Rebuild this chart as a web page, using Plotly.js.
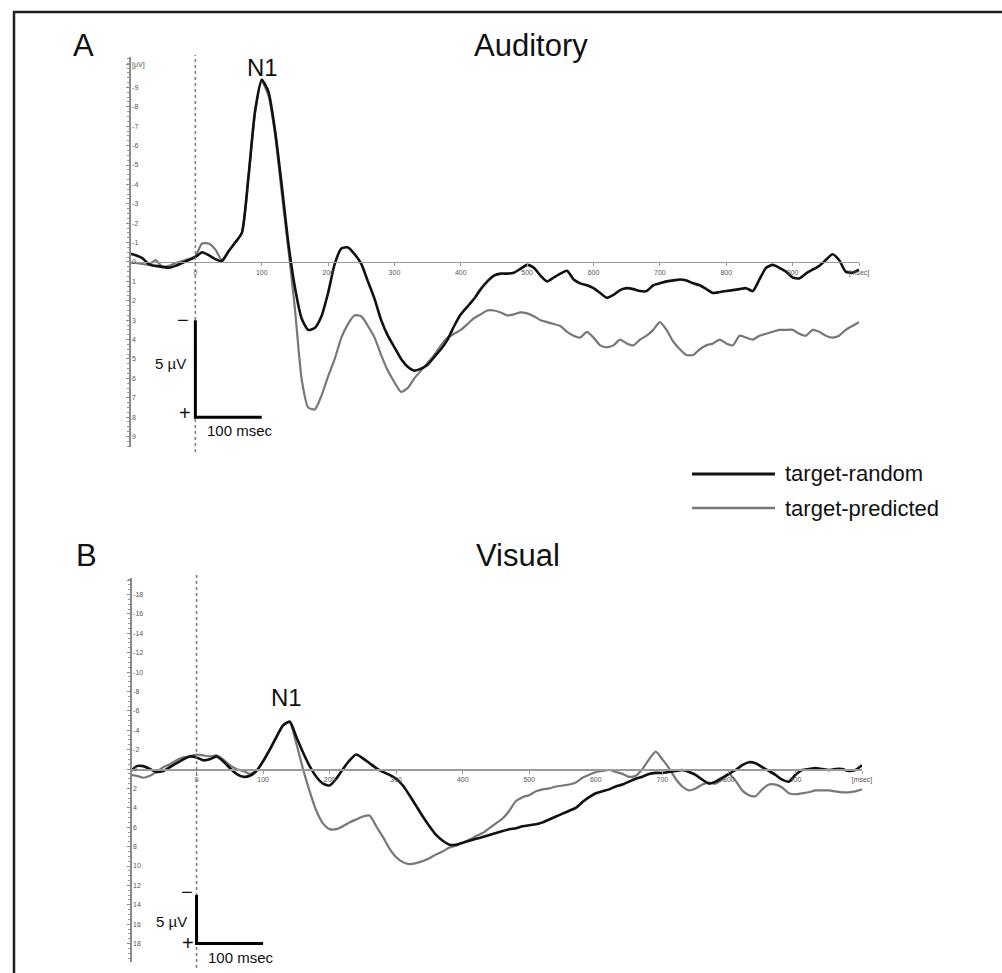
<!DOCTYPE html>
<html>
<head>
<meta charset="utf-8">
<script src="https://cdn.plot.ly/plotly-3.0.1.min.js"></script>
<style>
  html, body { margin: 0; padding: 0; background: #ffffff; }
  #chart { width: 1002px; height: 973px; }
</style>
</head>
<body>
<div id="chart"></div>
<script>
// Sample times (ms), stimulus onset at 0
const timeMs = [
  -100, -90, -80, -70, -60, -50, -40, -30, -20, -10,
  0, 10, 20, 30, 40, 50, 60, 70, 80, 90,
  100, 110, 120, 130, 140, 150, 160, 170, 180, 190,
  200, 210, 220, 230, 240, 250, 260, 270, 280, 290,
  300, 310, 320, 330, 340, 350, 360, 370, 380, 390,
  400, 410, 420, 430, 440, 450, 460, 470, 480, 490,
  500, 510, 520, 530, 540, 550, 560, 570, 580, 590,
  600, 610, 620, 630, 640, 650, 660, 670, 680, 690,
  700, 710, 720, 730, 740, 750, 760, 770, 780, 790,
  800, 810, 820, 830, 840, 850, 860, 870, 880, 890,
  900, 910, 920, 930, 940, 950, 960, 970, 980, 990,
  1000
];

// Auditory ERP (µV), target-random
const audRandom = [
  -0.45, -0.35, -0.2, 0.12, 0.2, 0.25, 0.3, 0.2, 0.05, -0.1,
  -0.25, -0.5, -0.35, -0.15, -0.05, -0.55, -1.0, -1.5, -4.4, -7.8,
  -9.4, -8.8, -6.8, -4.0, -1.0, 1.3, 2.9, 3.5, 3.4, 2.8,
  1.6, 0.1, -0.7, -0.75, -0.4, 0.1, 1.0, 1.9, 3.0, 3.8,
  4.4, 5.0, 5.4, 5.6, 5.5, 5.3, 4.9, 4.5, 4.0, 3.3,
  2.7, 2.3, 1.9, 1.4, 1.0, 0.7, 0.6, 0.6, 0.55, 0.35,
  0.15, 0.3, 0.7, 1.0, 0.8, 0.6, 0.45, 0.9, 1.1, 1.2,
  1.35, 1.6, 1.85, 1.7, 1.45, 1.35, 1.4, 1.5, 1.5, 1.2,
  1.1, 1.0, 0.95, 0.9, 0.95, 1.1, 1.2, 1.4, 1.6, 1.55,
  1.5, 1.45, 1.4, 1.35, 1.5, 0.9, 0.3, 0.15, 0.3, 0.5,
  0.8, 0.85, 0.6, 0.4, 0.2, -0.1, -0.4, -0.1, 0.5, 0.55,
  0.4
];

// Auditory ERP (µV), target-predicted
const audPredicted = [
  0.05, 0.05, 0.1, 0.15, -0.1, 0.24, 0.2, 0.05, -0.05, -0.15,
  -0.3, -0.95, -0.95, -0.65, -0.1, -0.55, -1.0, -1.5, -4.3, -7.7,
  -9.3, -8.6, -6.6, -3.6, -0.7, 2.4, 6.0, 7.5, 7.6, 6.9,
  5.9, 5.0, 3.9, 3.2, 2.75, 2.8, 3.3, 3.9, 4.8, 5.6,
  6.2, 6.7, 6.5, 6.0, 5.6, 5.2, 4.8, 4.3, 3.9, 3.7,
  3.5, 3.2, 2.9, 2.7, 2.5, 2.5, 2.6, 2.75, 2.7, 2.6,
  2.65, 2.8, 3.0, 3.1, 3.2, 3.3, 3.6, 3.8, 3.9, 3.6,
  3.9, 4.3, 4.4, 4.3, 4.0, 4.2, 4.3, 4.0, 3.8, 3.5,
  3.1, 3.5, 4.1, 4.5, 4.8, 4.8, 4.5, 4.3, 4.2, 4.0,
  4.2, 4.3, 3.8, 3.9, 4.0, 3.8, 3.7, 3.6, 3.5, 3.5,
  3.5, 3.7, 3.8, 3.5, 3.6, 3.8, 3.9, 3.8, 3.5, 3.3,
  3.1
];

// Visual ERP (µV), target-random
const visRandom = [
  0.3, -0.3, -0.3, 0.0, 0.3, 0.2, -0.2, -0.6, -1.0, -1.3,
  -1.2, -0.9, -1.0, -1.3, -0.8, -0.1, 0.5, 0.8, 0.7, 0.2,
  -0.8, -2.0, -3.3, -4.5, -4.9, -3.3, -1.7, -0.3, 0.8, 1.5,
  1.7, 1.0, 0.0, -0.9, -1.5, -1.1, -0.6, -0.1, 0.3, 0.6,
  1.0, 1.7, 2.7, 3.8, 4.9, 5.9, 6.8, 7.4, 7.8, 7.8,
  7.6, 7.4, 7.2, 7.0, 6.8, 6.6, 6.4, 6.2, 6.1, 5.9,
  5.8, 5.7, 5.5, 5.2, 4.9, 4.6, 4.3, 4.0, 3.4, 2.9,
  2.5, 2.3, 2.1, 1.8, 1.6, 1.3, 1.0, 0.8, 0.5, 0.4,
  0.4, 0.3, 0.2, 0.1, 0.3, 0.6, 1.1, 1.5, 1.3, 0.9,
  0.5, 0.1, -0.4, -0.7, -0.6, -0.2, 0.2, 0.6, 1.1, 1.3,
  0.6, 0.1, 0.0, -0.1, 0.0, 0.1, 0.0, 0.0, 0.2, 0.1,
  -0.4
];

// Visual ERP (µV), target-predicted
const visPredicted = [
  0.6, 0.7, 0.9, 0.7, 0.3, -0.2, -0.5, -0.9, -1.2, -1.3,
  -1.5, -1.4, -1.3, -1.4, -1.0, -0.4, 0.0, 0.2, 0.5, 0.2,
  -0.8, -2.0, -3.3, -4.5, -4.8, -2.6, 0.0, 2.3, 4.3, 5.6,
  6.2, 6.2, 5.9, 5.5, 5.2, 4.9, 4.8, 5.9, 7.0, 8.2,
  9.1, 9.6, 9.8, 9.7, 9.5, 9.2, 8.8, 8.5, 8.1, 7.9,
  7.6, 7.3, 6.9, 6.6, 6.1, 5.6, 5.1, 4.3, 3.3, 2.9,
  2.7, 2.3, 2.1, 2.0, 1.8, 1.7, 1.6, 1.4, 0.9, 0.6,
  0.3, 0.2, 0.1, 0.3, 0.5, 0.8, 0.7, 0.0, -1.0, -1.8,
  -1.0, -0.1, 1.0, 1.8, 2.2, 2.0, 1.6, 1.4, 1.5, 1.1,
  0.5, 1.2, 2.2, 2.7, 2.8, 2.1, 1.6, 1.6, 1.9, 2.5,
  2.6, 2.5, 2.4, 2.2, 2.2, 2.2, 2.3, 2.4, 2.4, 2.3,
  2.1
];

// Axis tick labels
const msTicks = [0, 100, 200, 300, 400, 500, 600, 700, 800, 900, 1000];
const msTickText = ['0', '100', '200', '300', '400', '500', '600', '700', '800', '900', '[msec]'];
const audUvTicks = [-10.2, -9, -8, -7, -6, -5, -4, -3, -2, -1, 0, 1, 2, 3, 4, 5, 6, 7, 8, 9];
const audUvText = ['[µV]', '-9', '-8', '-7', '-6', '-5', '-4', '-3', '-2', '-1', '0', '1', '2', '3', '4', '5', '6', '7', '8', '9'];
const visUvTicks = [-19.4, -18, -16, -14, -12, -10, -8, -6, -4, -2, 0, 2, 4, 6, 8, 10, 12, 14, 16, 18];
const visUvText = ['[µV]', '-18', '-16', '-14', '-12', '-10', '-8', '-6', '-4', '-2', '0', '2', '4', '6', '8', '10', '12', '14', '16', '18'];

// Series names and panel titles
const seriesNames = ['target-random', 'target-predicted'];
const panelTitles = ['Auditory', 'Visual'];
const panelLetters = ['A', 'B'];

// Scale bars: [time from, time to], [µV from, µV to]
const audScaleMs = [0, 100];
const audScaleUv = [3, 8];
const visScaleMs = [0, 100];
const visScaleUv = [13, 18];

// ---- figure geometry (pixels) ----
const W = 1002, H = 973;
const fx = p => p / W;
const fy = p => 1 - p / H;

const FONT = 'Liberation Sans, Arial, Helvetica, sans-serif';
const BLACK = '#111111';
const GREY = '#777777';

const axA = { x0: 129, x1: 859, yTop: 57, yBot: 447, rTop: -10.57, rBot: 9.54 };
const axB = { x0: 130, x1: 862, yTop: 578, yBot: 962, rTop: -19.7, rBot: 19.9 };

function zeroPos(ax) {
  const frac = (0 - ax.rBot) / (ax.rTop - ax.rBot);
  return fy(ax.yBot) + frac * (fy(ax.yTop) - fy(ax.yBot));
}

function xAxisCfg(ax) {
  return {
    domain: [fx(ax.x0), fx(ax.x1)],
    range: [-100, 1000],
    anchor: 'free',
    position: zeroPos(ax),
    showline: true, linecolor: '#9a9a9a', linewidth: 1.5,
    showgrid: false, zeroline: false,
    ticks: 'outside', ticklen: 3, tickcolor: '#9a9a9a', tickwidth: 1,
    tickmode: 'array', tickvals: msTicks, ticktext: msTickText,
    tickfont: { family: FONT, size: 7, color: '#555555' },
    fixedrange: true
  };
}

function yAxisCfg(ax, tv, tt, minorStep) {
  return {
    domain: [fy(ax.yBot), fy(ax.yTop)],
    range: [ax.rBot, ax.rTop],
    anchor: 'free', position: fx(ax.x0),
    showline: true, linecolor: '#8a8a8a', linewidth: 1.5,
    showgrid: false, zeroline: false,
    ticks: 'outside', ticklen: 3, tickcolor: '#8a8a8a', tickwidth: 1,
    minor: { dtick: minorStep, ticks: 'outside', ticklen: 2, tickcolor: '#9a9a9a', tickwidth: 1, showgrid: false },
    tickmode: 'array', tickvals: tv, ticktext: tt,
    ticklabelposition: 'inside',
    tickfont: { family: FONT, size: 7, color: '#555555' },
    fixedrange: true
  };
}

const traces = [
  { x: timeMs, y: audRandom, xaxis: 'x', yaxis: 'y', mode: 'lines', name: seriesNames[0],
    line: { color: BLACK, width: 2.6, shape: 'spline', smoothing: 0.6 }, showlegend: false },
  { x: timeMs, y: audPredicted, xaxis: 'x', yaxis: 'y', mode: 'lines', name: seriesNames[1],
    line: { color: GREY, width: 2.2, shape: 'spline', smoothing: 0.6 }, showlegend: false },
  { x: timeMs, y: visRandom, xaxis: 'x2', yaxis: 'y2', mode: 'lines', name: seriesNames[0],
    line: { color: BLACK, width: 2.6, shape: 'spline', smoothing: 0.6 }, showlegend: false },
  { x: timeMs, y: visPredicted, xaxis: 'x2', yaxis: 'y2', mode: 'lines', name: seriesNames[1],
    line: { color: GREY, width: 2.2, shape: 'spline', smoothing: 0.6 }, showlegend: false }
];
// draw the predicted (grey) curves beneath the random (black) ones
const ordered = [traces[1], traces[0], traces[3], traces[2]];

const shapes = [
  // frame (left and top edges)
  { type: 'path', xref: 'paper', yref: 'paper',
    path: `M ${fx(14)} ${fy(973)} L ${fx(14)} ${fy(12)} L ${fx(1002)} ${fy(12)}`,
    line: { color: '#231f20', width: 2.5 } },
  // stimulus onset markers
  { type: 'line', xref: 'x', yref: 'paper', x0: 0, x1: 0, y0: fy(452), y1: fy(55),
    line: { color: '#7a7a7a', width: 1.5, dash: 'dot' } },
  { type: 'line', xref: 'x2', yref: 'paper', x0: 0, x1: 0, y0: fy(968), y1: fy(574),
    line: { color: '#7a7a7a', width: 1.5, dash: 'dot' } },
  // scale bars
  { type: 'path', xref: 'x', yref: 'y',
    path: `M ${audScaleMs[0]} ${audScaleUv[0]} L ${audScaleMs[0]} ${audScaleUv[1]} L ${audScaleMs[1]} ${audScaleUv[1]}`,
    line: { color: '#000000', width: 3 } },
  { type: 'path', xref: 'x2', yref: 'y2',
    path: `M ${visScaleMs[0]} ${visScaleUv[0]} L ${visScaleMs[0]} ${visScaleUv[1]} L ${visScaleMs[1]} ${visScaleUv[1]}`,
    line: { color: '#000000', width: 3 } },
  // legend keys
  { type: 'line', xref: 'paper', yref: 'paper', x0: fx(692), x1: fx(775), y0: fy(474), y1: fy(474),
    line: { color: BLACK, width: 3 } },
  { type: 'line', xref: 'paper', yref: 'paper', x0: fx(692), x1: fx(775), y0: fy(508), y1: fy(508),
    line: { color: GREY, width: 2.5 } }
];

function txt(x, y, text, size, opts) {
  return Object.assign({
    xref: 'paper', yref: 'paper', x: fx(x), y: fy(y), text: text, showarrow: false,
    xanchor: 'center', yanchor: 'middle',
    font: { family: FONT, size: size, color: '#111111' }
  }, opts || {});
}

const annotations = [
  txt(83, 45, panelLetters[0], 31),
  txt(531, 45, panelTitles[0], 31),
  txt(262, 67, 'N1', 24),
  txt(86, 555, panelLetters[1], 31),
  txt(518, 555, panelTitles[1], 31),
  txt(286, 697, 'N1', 24),
  // legend labels
  txt(783, 474, seriesNames[0], 22, { xanchor: 'left' }),
  txt(783, 508, seriesNames[1], 22, { xanchor: 'left' }),
  // scale bar labels, auditory
  txt(183, 320, '−', 20),
  txt(185, 413, '+', 20),
  txt(188, 363, '5 µV', 15, { xanchor: 'right' }),
  txt(205, 430, '100 msec', 15, { xanchor: 'left' }),
  // scale bar labels, visual
  txt(187, 892, '−', 20),
  txt(188, 943, '+', 20),
  txt(189, 921, '5 µV', 15, { xanchor: 'right' }),
  txt(206, 957, '100 msec', 15, { xanchor: 'left' })
];

const layout = {
  width: W, height: H, autosize: false,
  margin: { l: 0, r: 0, t: 0, b: 0, pad: 0 },
  paper_bgcolor: '#ffffff', plot_bgcolor: 'rgba(0,0,0,0)',
  showlegend: false,
  xaxis: xAxisCfg(axA),
  yaxis: yAxisCfg(axA, audUvTicks, audUvText, 0.25),
  xaxis2: xAxisCfg(axB),
  yaxis2: yAxisCfg(axB, visUvTicks, visUvText, 0.5),
  shapes: shapes,
  annotations: annotations
};

Plotly.newPlot('chart', ordered, layout, { staticPlot: true, displayModeBar: false });
</script>
</body>
</html>
